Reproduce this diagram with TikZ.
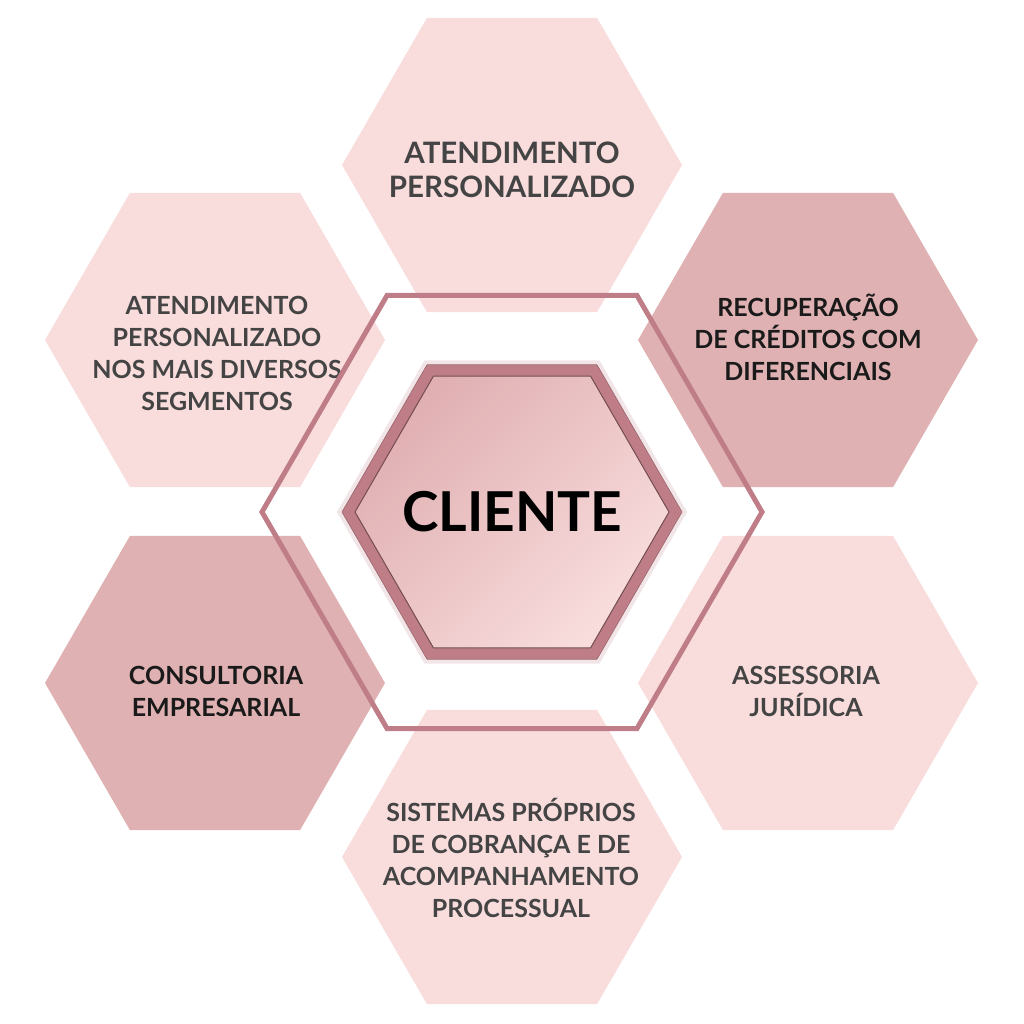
\documentclass[tikz,border=0pt]{standalone}
\usepackage{fontspec}
\setmainfont{Lato}
\usetikzlibrary{shapes.geometric}

\definecolor{hexLight}{HTML}{F9DCDC}
\definecolor{hexDark}{HTML}{DFB1B2}
\definecolor{rimRose}{HTML}{BF7E87}
\definecolor{coreTop}{HTML}{E0AFB2}
\definecolor{coreBot}{HTML}{F9DDDD}
\definecolor{txtGray}{HTML}{444444}
\definecolor{txtDark}{HTML}{1A1A1A}

\tikzset{
    hexa/.style={regular polygon, regular polygon sides=6, minimum size=340pt, inner sep=0pt},
    hexlight/.style={hexa, fill=hexLight},
    hexdark/.style={hexa, fill=hexDark},
    hextext/.style={inner sep=0pt, align=center, text=txtGray,
        font=\bfseries\fontsize{25}{32}\selectfont}
}

\begin{document}
\begin{tikzpicture}[x=1pt, y=-1pt]
    \useasboundingbox (0,0) rectangle (1024,1024);

    % Outer hexagons
    \node[hexlight] (hexTop) at (512,165) {};
    \node[hexlight] (hexUpLeft) at (215,340) {};
    \node[hexdark] (hexUpRight) at (808,340) {};
    \node[hexdark] (hexLowLeft) at (215,683) {};
    \node[hexlight] (hexLowRight) at (808,683) {};
    \node[hexlight] (hexBottom) at (512,857) {};

    % Their texts
    \node[hextext, font=\bfseries\fontsize{29.5}{34}\selectfont] (txtTop) at (512,170) {ATENDIMENTO\\PERSONALIZADO};
    \node[hextext] (txtUpLeft) at (217,353) {ATENDIMENTO\\PERSONALIZADO\\NOS MAIS DIVERSOS\\SEGMENTOS};
    \node[hextext, text=txtDark] (txtUpRight) at (808,337) {RECUPERAÇÃO\\DE CRÉDITOS COM\\DIFERENCIAIS};
    \node[hextext, text=txtDark] (txtLowLeft) at (216,691) {CONSULTORIA\\EMPRESARIAL};
    \node[hextext] (txtLowRight) at (806,691) {ASSESSORIA\\JURÍDICA};
    \node[hextext] (txtBottom) at (511,858) {SISTEMAS PRÓPRIOS\\DE COBRANÇA E DE\\ACOMPANHAMENTO\\PROCESSUAL};

    % Ring around the center
    \node[regular polygon, regular polygon sides=6, minimum size=500pt, inner sep=0pt,
        draw=rimRose, line width=5pt] (ring) at (512,512) {};

    % Center hexagon (halo, rim, core)
    \node[hexa, minimum size=350pt, fill=rimRose!40, opacity=0.5] (halo) at (512,512) {};
    \node[hexa, fill=rimRose, draw=rimRose!80!black, line width=0.6pt] (rim) at (512,512) {};
    \node[hexa, minimum size=314pt, top color=coreTop, bottom color=coreBot, shading angle=45,
        draw=rimRose!60!black, line width=1pt] (core) at (512,512) {};
    \node[inner sep=0pt, text=black, font=\bfseries\fontsize{55}{60}\selectfont]
        (client) at (512,512) {CLIENTE};
\end{tikzpicture}
\end{document}
